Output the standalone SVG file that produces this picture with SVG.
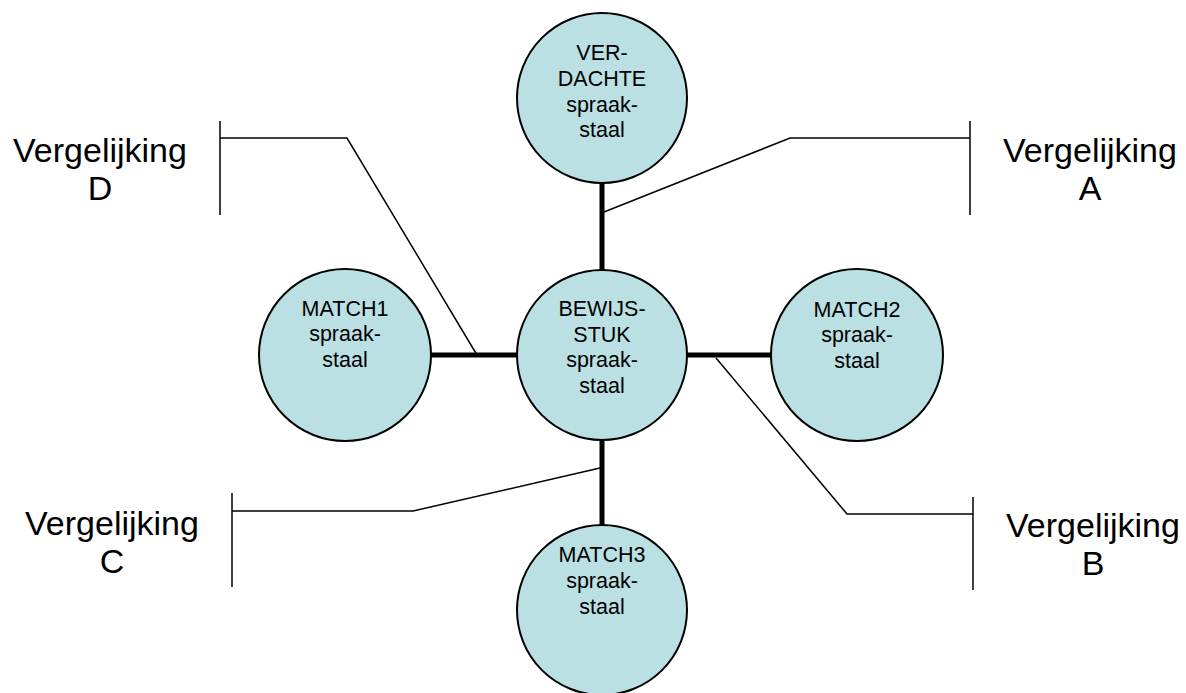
<svg xmlns="http://www.w3.org/2000/svg" width="1186" height="693" viewBox="0 0 1186 693">
<style>
.node{fill:#bae0e3;stroke:#000;stroke-width:2}
.nt{font-family:"Liberation Sans",Arial,sans-serif;font-size:21.5px;fill:#000;text-anchor:middle}
.lbl{font-family:"Liberation Sans",Arial,sans-serif;font-size:34px;fill:#000;text-anchor:middle}
.thick{stroke:#000;stroke-width:5;fill:none}
.thin{stroke:#000;stroke-width:1.5;fill:none}
</style>
<rect width="1186" height="693" fill="#fff"/>
<g id="connectors">
<line class="thick" x1="602" y1="183" x2="602" y2="270"/>
<line class="thick" x1="431" y1="355" x2="517" y2="355"/>
<line class="thick" x1="687" y1="355" x2="772" y2="355"/>
<line class="thick" x1="602" y1="440" x2="602" y2="525"/>
</g>
<g id="callouts">
<line class="thin" x1="220" y1="121" x2="220" y2="215"/>
<polyline class="thin" points="220,138 347,138 477,355"/>
<line class="thin" x1="970" y1="121" x2="970" y2="215"/>
<polyline class="thin" points="970,138 790,138 604,212"/>
<line class="thin" x1="232" y1="493" x2="232" y2="587"/>
<polyline class="thin" points="232,511 413,511 600,468"/>
<line class="thin" x1="973" y1="497" x2="973" y2="590"/>
<polyline class="thin" points="973,514 847,514 716,358"/>
</g>
<g id="node-verdachte">
<circle class="node" cx="602" cy="98" r="85"/>
<text class="nt" x="602" y="60">VER-</text>
<text class="nt" x="602" y="86">DACHTE</text>
<text class="nt" x="602" y="112">spraak-</text>
<text class="nt" x="602" y="137">staal</text>
</g>
<g id="node-bewijsstuk">
<circle class="node" cx="602" cy="355" r="85"/>
<text class="nt" x="602" y="316">BEWIJS-</text>
<text class="nt" x="602" y="342">STUK</text>
<text class="nt" x="602" y="367">spraak-</text>
<text class="nt" x="602" y="393">staal</text>
</g>
<g id="node-match1">
<circle class="node" cx="345" cy="355" r="86"/>
<text class="nt" x="345" y="316">MATCH1</text>
<text class="nt" x="345" y="341">spraak-</text>
<text class="nt" x="345" y="367">staal</text>
</g>
<g id="node-match2">
<circle class="node" cx="857" cy="355" r="86"/>
<text class="nt" x="857" y="317">MATCH2</text>
<text class="nt" x="857" y="342">spraak-</text>
<text class="nt" x="857" y="368">staal</text>
</g>
<g id="node-match3">
<circle class="node" cx="602" cy="610" r="85"/>
<text class="nt" x="602" y="562">MATCH3</text>
<text class="nt" x="602" y="588">spraak-</text>
<text class="nt" x="602" y="614">staal</text>
</g>
<g id="label-a">
<text class="lbl" x="1090" y="162">Vergelijking</text>
<text class="lbl" x="1090" y="200">A</text>
</g>
<g id="label-b">
<text class="lbl" x="1093" y="537">Vergelijking</text>
<text class="lbl" x="1093" y="575">B</text>
</g>
<g id="label-c">
<text class="lbl" x="112" y="535">Vergelijking</text>
<text class="lbl" x="112" y="573">C</text>
</g>
<g id="label-d">
<text class="lbl" x="100" y="162">Vergelijking</text>
<text class="lbl" x="100" y="200">D</text>
</g>
</svg>
